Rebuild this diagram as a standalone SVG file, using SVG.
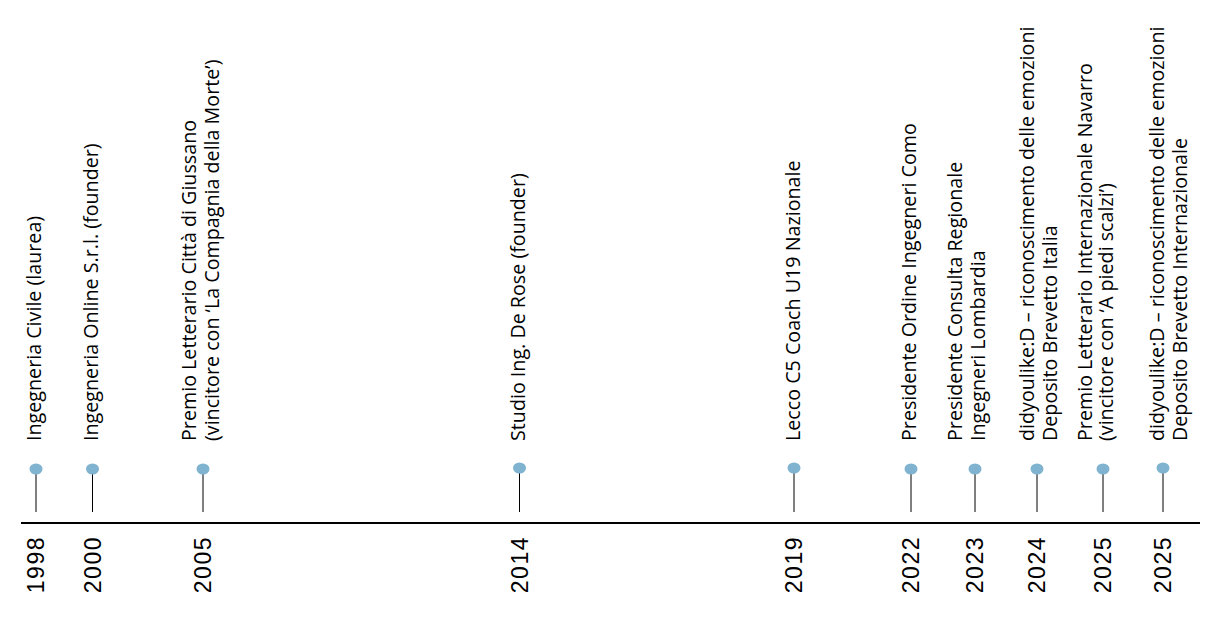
<svg xmlns="http://www.w3.org/2000/svg" width="1223" height="626" viewBox="0 0 1223 626">
<style>
.bg{fill:#ffffff}
.axis{stroke:#000;stroke-width:2}
.stem{stroke:#000;stroke-width:1}
.dot{fill:#7fb3cf}
.yr{font-family:"Liberation Sans",Arial,sans-serif;font-size:23px;fill:#000;letter-spacing:1.5px;text-anchor:end}
.lbl{font-family:"Open Sans","Noto Sans",sans-serif;font-size:19.7px;fill:#000}
</style>
<rect class="bg" x="0" y="0" width="1223" height="626"/>
<g id="connectors">
<line class="axis" x1="21" y1="523" x2="1200" y2="523"/>
<line class="stem" x1="36" y1="474" x2="36" y2="512"/>
<line class="stem" x1="92.5" y1="474" x2="92.5" y2="512"/>
<line class="stem" x1="203" y1="474" x2="203" y2="512"/>
<line class="stem" x1="519.5" y1="473" x2="519.5" y2="512"/>
<line class="stem" x1="794" y1="473" x2="794" y2="512"/>
<line class="stem" x1="911" y1="474" x2="911" y2="512"/>
<line class="stem" x1="975" y1="474" x2="975" y2="512"/>
<line class="stem" x1="1037" y1="474" x2="1037" y2="512"/>
<line class="stem" x1="1103" y1="474" x2="1103" y2="512"/>
<line class="stem" x1="1163" y1="473" x2="1163" y2="512"/>
</g>
<g id="ev1998">
<ellipse class="dot" cx="36" cy="469" rx="6.5" ry="5.5"/>
<text class="yr" transform="translate(44,536) rotate(-90)">1998</text>
<text class="lbl" transform="translate(41,441) rotate(-90)">Ingegneria Civile (laurea)</text>
</g>
<g id="ev2000">
<ellipse class="dot" cx="92.5" cy="469" rx="6.5" ry="5.5"/>
<text class="yr" transform="translate(101,536) rotate(-90)">2000</text>
<text class="lbl" transform="translate(98,441) rotate(-90)">Ingegneria Online S.r.l. (founder)</text>
</g>
<g id="ev2005">
<ellipse class="dot" cx="203" cy="469" rx="6.5" ry="5.5"/>
<text class="yr" transform="translate(211,536) rotate(-90)">2005</text>
<text class="lbl" transform="translate(196,441) rotate(-90)">Premio Letterario Città di Giussano<tspan x="0" dy="23">(vincitore con ‘La Compagnia della Morte’)</tspan></text>
</g>
<g id="ev2014">
<ellipse class="dot" cx="519.5" cy="468" rx="6.5" ry="5.5"/>
<text class="yr" transform="translate(528,536) rotate(-90)">2014</text>
<text class="lbl" transform="translate(525,441) rotate(-90)">Studio Ing. De Rose (founder)</text>
</g>
<g id="ev2019">
<ellipse class="dot" cx="794" cy="468" rx="6.5" ry="5.5"/>
<text class="yr" transform="translate(802,536) rotate(-90)">2019</text>
<text class="lbl" transform="translate(800,441) rotate(-90)">Lecco C5 Coach U19 Nazionale</text>
</g>
<g id="ev2022">
<ellipse class="dot" cx="911" cy="469" rx="6.5" ry="5.5"/>
<text class="yr" transform="translate(919,536) rotate(-90)">2022</text>
<text class="lbl" transform="translate(916,441) rotate(-90)">Presidente Ordine Ingegneri Como</text>
</g>
<g id="ev2023">
<ellipse class="dot" cx="975" cy="469" rx="6.5" ry="5.5"/>
<text class="yr" transform="translate(983,536) rotate(-90)">2023</text>
<text class="lbl" transform="translate(962,441) rotate(-90)">Presidente Consulta Regionale<tspan x="0" dy="23">Ingegneri Lombardia</tspan></text>
</g>
<g id="ev2024">
<ellipse class="dot" cx="1037" cy="469" rx="6.5" ry="5.5"/>
<text class="yr" transform="translate(1045,536) rotate(-90)">2024</text>
<text class="lbl" transform="translate(1034,441) rotate(-90)">didyoulike:D – riconoscimento delle emozioni<tspan x="0" dy="23">Deposito Brevetto Italia</tspan></text>
</g>
<g id="ev2025a">
<ellipse class="dot" cx="1103" cy="469" rx="6.5" ry="5.5"/>
<text class="yr" transform="translate(1111,536) rotate(-90)">2025</text>
<text class="lbl" transform="translate(1092,441) rotate(-90)">Premio Letterario Internazionale Navarro<tspan x="0" dy="21">(vincitore con ‘A piedi scalzi’)</tspan></text>
</g>
<g id="ev2025b">
<ellipse class="dot" cx="1163" cy="468" rx="6.5" ry="5.5"/>
<text class="yr" transform="translate(1171,536) rotate(-90)">2025</text>
<text class="lbl" transform="translate(1164,441) rotate(-90)">didyoulike:D – riconoscimento delle emozioni<tspan x="0" dy="23">Deposito Brevetto Internazionale</tspan></text>
</g>
</svg>
